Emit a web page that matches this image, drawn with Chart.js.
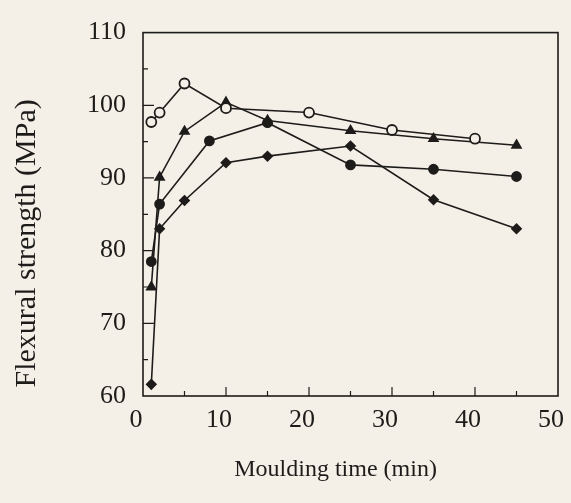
<!DOCTYPE html>
<html>
<head>
<meta charset="utf-8">
<script src="https://cdn.jsdelivr.net/npm/chart.js@4/dist/chart.umd.min.js"></script>
<style>
    html, body { margin: 0; padding: 0; background: #f4f0e7; }
    #wrap { width: 571px; height: 503px; }
</style>
</head>
<body>
<div id="wrap"><canvas id="strengthChart" width="571" height="503"></canvas></div>
<script>
// moulding time (min) and flexural strength (MPa) per series
const timeOpen = [1, 2, 5, 10, 20, 30, 40];
const strengthOpen = [97.7, 99.0, 103.0, 99.6, 99.0, 96.6, 95.4];

const timeTriangle = [1, 2, 5, 10, 15, 25, 35, 45];
const strengthTriangle = [75.0, 90.1, 96.4, 100.4, 97.9, 96.5, 95.4, 94.5];

const timeFilled = [1, 2, 8, 15, 25, 35, 45];
const strengthFilled = [78.5, 86.4, 95.1, 97.6, 91.8, 91.2, 90.2];

const timeDiamond = [1, 2, 5, 10, 15, 25, 35, 45];
const strengthDiamond = [61.6, 83.0, 86.9, 92.1, 93.0, 94.4, 87.0, 83.0];

const xTicks = [0, 10, 20, 30, 40, 50];
const yTicks = [60, 70, 80, 90, 100, 110];

const xTitle = 'Moulding time (min)';
const yTitle = 'Flexural strength (MPa)';

const ink = '#1e1c1a';
const paper = '#f4f0e7';
const serif = '"Liberation Serif", "Times New Roman", serif';

const toPoints = (xs, ys) => xs.map((x, i) => ({ x: x, y: ys[i] }));

const series = (label, xs, ys, style, radius, fill) => ({
    label: label,
    data: toPoints(xs, ys),
    showLine: true,
    borderColor: ink,
    borderWidth: 1.6,
    pointStyle: style,
    pointRadius: radius,
    pointBackgroundColor: fill,
    pointBorderColor: ink,
    pointBorderWidth: 1.8
});

// frame around the plot with inward ticks (major every 10, minor every 5)
const framePlugin = {
    id: 'frame',
    afterDraw(chart) {
        const { ctx, chartArea: a, scales } = chart;
        ctx.save();
        ctx.strokeStyle = ink;
        ctx.lineWidth = 1.6;
        ctx.strokeRect(a.left, a.top, a.right - a.left, a.bottom - a.top);
        ctx.lineWidth = 1.2;
        ctx.beginPath();
        for (let v = 5; v < 50; v += 5) {
            const px = scales.x.getPixelForValue(v);
            const len = v % 10 === 0 ? 9 : 5;
            ctx.moveTo(px, a.bottom);
            ctx.lineTo(px, a.bottom - len);
        }
        for (let v = 65; v < 110; v += 5) {
            const py = scales.y.getPixelForValue(v);
            const len = v % 10 === 0 ? 11 : 5;
            ctx.moveTo(a.left, py);
            ctx.lineTo(a.left + len, py);
        }
        ctx.stroke();

        // axis titles
        ctx.fillStyle = ink;
        ctx.textAlign = 'center';
        ctx.textBaseline = 'middle';
        ctx.font = '24px ' + serif;
        ctx.fillText(xTitle, a.left + (a.right - a.left) * 0.464, 470);
        ctx.translate(27, a.top + (a.bottom - a.top) * 0.58);
        ctx.rotate(-Math.PI / 2);
        ctx.font = '30px ' + serif;
        ctx.fillText(yTitle, 0, 0);
        ctx.restore();
    }
};

new Chart(document.getElementById('strengthChart').getContext('2d'), {
    type: 'scatter',
    data: {
        datasets: [
            series('open circle', timeOpen, strengthOpen, 'circle', 5, paper),
            series('triangle', timeTriangle, strengthTriangle, 'triangle', 5, ink),
            series('filled circle', timeFilled, strengthFilled, 'circle', 4.5, ink),
            series('diamond', timeDiamond, strengthDiamond, 'rectRot', 4.5, ink)
        ]
    },
    options: {
        responsive: false,
        animation: false,
        layout: { padding: { left: 0, right: 13, top: 19, bottom: 0 } },
        plugins: {
            legend: { display: false },
            tooltip: { enabled: false }
        },
        scales: {
            x: {
                type: 'linear',
                min: 0,
                max: 50,
                afterBuildTicks: s => { s.ticks = xTicks.map(v => ({ value: v })); },
                afterFit: s => {
                    s.height = 107;
                    s.paddingLeft = 0;
                    s.paddingRight = 0;
                },
                grid: { display: false, drawTicks: false },
                border: { display: false },
                ticks: {
                    color: ink,
                    padding: 9,
                    labelOffset: -7,
                    font: { family: serif, size: 26 }
                }
            },
            y: {
                type: 'linear',
                min: 60,
                max: 110,
                afterBuildTicks: s => { s.ticks = yTicks.map(v => ({ value: v })); },
                afterFit: s => { s.width = 143; },
                grid: { display: false, drawTicks: false },
                border: { display: false },
                ticks: {
                    color: ink,
                    padding: 17,
                    font: { family: serif, size: 26 }
                }
            }
        }
    },
    plugins: [framePlugin]
});
</script>
</body>
</html>
